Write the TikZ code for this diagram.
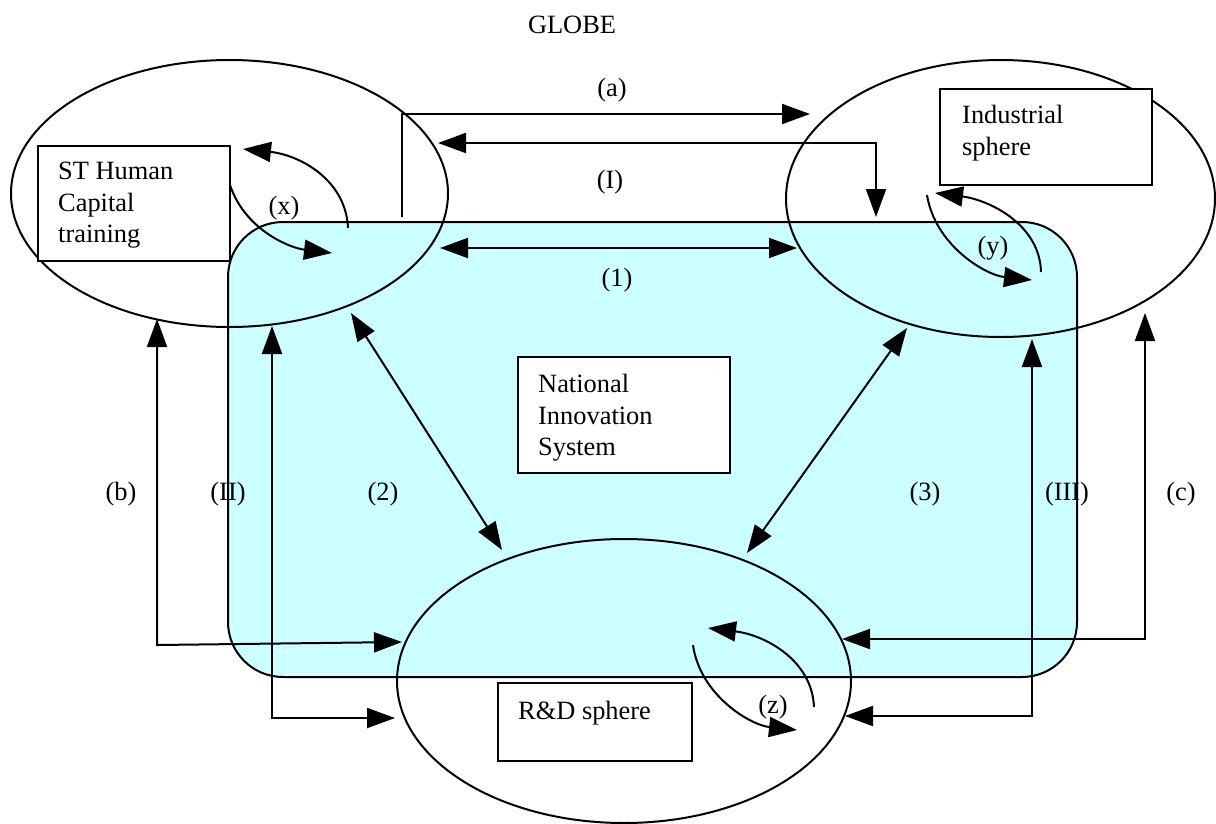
\documentclass[tikz,border=0pt]{standalone}
\usepackage{fontspec}
\setmainfont{Liberation Serif}
\usetikzlibrary{arrows.meta,shapes.geometric}
\definecolor{nisfill}{RGB}{204,255,255}
\begin{document}
\begin{tikzpicture}[x=1pt,y=-1pt,
  every node/.style={font=\fontsize{26.4}{31.5}\selectfont},
  line/.style={line width=2pt},
  tip/.style={-{Triangle[length=28pt,width=20pt]}},
  tips/.style={{Triangle[length=28pt,width=20pt]}-{Triangle[length=28pt,width=20pt]}},
  sphere/.style={draw,line width=2pt,ellipse,inner sep=0pt,outer sep=0pt},
  label/.style={draw,line width=1.5pt,fill=white,inner sep=0pt,outer sep=0pt},
  boxtext/.style={anchor=north west,align=left,inner sep=0pt},
  lbl/.style={inner sep=0pt}]
\useasboundingbox (0,0) rectangle (1216,823);
% National Innovation System region
\node[draw,line width=2pt,fill=nisfill,rounded corners=55pt,minimum width=849pt,minimum height=455pt,inner sep=0pt] (nis) at (652.5,449.5) {};
% spheres
\node[sphere,minimum width=437pt,minimum height=267pt] (hc) at (229.5,193.5) {};
\node[sphere,minimum width=429pt,minimum height=277pt] (ind) at (1000.5,198.5) {};
\node[sphere,minimum width=454pt,minimum height=284pt] (rd) at (624,681) {};
% label boxes
\node[label,minimum width=192pt,minimum height=115pt] (hcbox) at (134,203.5) {};
\node[boxtext] (hct) at (58,162) {ST Human\\Capital\\training};
\node[label,minimum width=212pt,minimum height=96pt] (indbox) at (1046,137) {};
\node[boxtext] (indt) at (962,105) {Industrial\\sphere};
\node[label,minimum width=212pt,minimum height=116pt] (nisbox) at (624,415) {};
\node[boxtext] (nist) at (538,374) {National\\Innovation\\System};
\node[label,minimum width=194pt,minimum height=78pt] (rdbox) at (595,722) {};
\node[boxtext] (rdt) at (518,701) {R\&D sphere};
% title and labels
\node[lbl] (globe) at (572,25) {GLOBE};
\node[lbl] (la) at (612,90) {(a)};
\node[lbl] (lI) at (610,182) {(I)};
\node[lbl] (l1) at (617,280) {(1)};
\node[lbl] (lb) at (121,494) {(b)};
\node[lbl] (lII) at (228,494) {(II)};
\node[lbl] (l2) at (383,494) {(2)};
\node[lbl] (l3) at (925,494) {(3)};
\node[lbl] (lIII) at (1067,494) {(III)};
\node[lbl] (lc) at (1181,494) {(c)};
\node[lbl] (lx) at (284,208) {(x)};
\node[lbl] (ly) at (993,248) {(y)};
\node[lbl] (lz) at (773,707) {(z)};
% connector end points
\coordinate (a0) at (402,217);
\coordinate (a1) at (402,114);
\coordinate (a2) at (810,114);
\coordinate (I0) at (438,143);
\coordinate (I1) at (876,143);
\coordinate (I2) at (876,217);
\coordinate (o0) at (440,248);
\coordinate (o1) at (797,248);
\coordinate (t0) at (351,313);
\coordinate (t1) at (502,550);
\coordinate (h0) at (907,328);
\coordinate (h1) at (747,553);
\coordinate (b0) at (157,319);
\coordinate (b1) at (157,645);
\coordinate (b2) at (402,642);
\coordinate (II0) at (272,326);
\coordinate (II1) at (272,718);
\coordinate (II2) at (395,718);
\coordinate (III0) at (1032,339);
\coordinate (III1) at (1032,716);
\coordinate (III2) at (845,716);
\coordinate (c0) at (1145,313);
\coordinate (c1) at (1145,639);
\coordinate (c2) at (842,639);
\coordinate (x0) at (230,185);
\coordinate (x1) at (332,253);
\coordinate (x2) at (348,228);
\coordinate (x3) at (243,149);
\coordinate (y0) at (927,195);
\coordinate (y1) at (1032,280);
\coordinate (y2) at (1041,272);
\coordinate (y3) at (935,193);
\coordinate (z0) at (693,645);
\coordinate (z1) at (797,730);
\coordinate (z2) at (814,707);
\coordinate (z3) at (708,628);
% connectors
\draw[line,tip] (a0) -- (a1) -- (a2);
\draw[line,tips] (I0) -- (I1) -- (I2);
\draw[line,tips] (o0) -- (o1);
\draw[line,tips] (t0) -- (t1);
\draw[line,tips] (h0) -- (h1);
\draw[line,tips] (b0) -- (b1) -- (b2);
\draw[line,tips] (II0) -- (II1) -- (II2);
\draw[line,tips] (III0) -- (III1) -- (III2);
\draw[line,tips] (c0) -- (c1) -- (c2);
% internal loops
\draw[line,tip] (x0) .. controls (245,230) and (290,248) .. (x1);
\draw[line,tip] (x2) .. controls (346,180) and (300,155) .. (x3);
\draw[line,tip] (y0) .. controls (935,245) and (985,275) .. (y1);
\draw[line,tip] (y2) .. controls (1040,225) and (990,200) .. (y3);
\draw[line,tip] (z0) .. controls (700,695) and (750,725) .. (z1);
\draw[line,tip] (z2) .. controls (812,660) and (765,635) .. (z3);
\end{tikzpicture}
\end{document}
